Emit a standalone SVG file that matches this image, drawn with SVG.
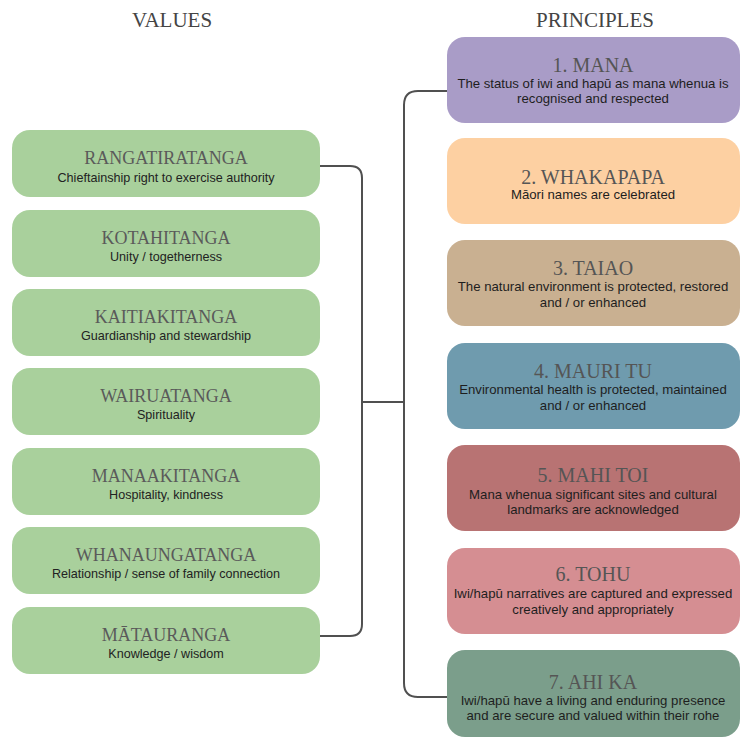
<svg xmlns="http://www.w3.org/2000/svg" width="742" height="744" viewBox="0 0 742 744">
<style>
.hdr{font-family:"Liberation Serif",serif;font-size:21px;fill:#444;text-anchor:middle}
.lt{font-family:"Liberation Serif",serif;font-size:18px;fill:#5a5a5a;text-anchor:middle}
.ls{font-family:"Liberation Sans",sans-serif;font-size:12.6px;fill:#222;text-anchor:middle}
.rt{font-family:"Liberation Serif",serif;font-size:20px;fill:#555;text-anchor:middle}
.rs{font-family:"Liberation Sans",sans-serif;font-size:13.2px;fill:#1e1e1e;text-anchor:middle}
.val{fill:#a9d09c}
.con{fill:none;stroke:#505050;stroke-width:2}
</style>
<rect width="742" height="744" fill="#ffffff"/>
<text class="hdr" x="172" y="27">VALUES</text>
<text class="hdr" x="595" y="27">PRINCIPLES</text>

<g id="connectors">
<path class="con" d="M320,166 H350 Q362,166 362,178 V624 Q362,636 350,636 H320"/>
<path class="con" d="M362,402 H404"/>
<path class="con" d="M447,91 H418 Q404,91 404,105 V683 Q404,697 418,697 H447"/>
</g>

<g id="v1"><rect class="val" x="12" y="130" width="308" height="67" rx="18"/>
<text class="lt" x="166" y="164">RANGATIRATANGA</text>
<text class="ls" x="166" y="182">Chieftainship right to exercise authority</text></g>
<g id="v2"><rect class="val" x="12" y="210" width="308" height="67" rx="18"/>
<text class="lt" x="166" y="244">KOTAHITANGA</text>
<text class="ls" x="166" y="261">Unity / togetherness</text></g>
<g id="v3"><rect class="val" x="12" y="289" width="308" height="67" rx="18"/>
<text class="lt" x="166" y="323">KAITIAKITANGA</text>
<text class="ls" x="166" y="340">Guardianship and stewardship</text></g>
<g id="v4"><rect class="val" x="12" y="368" width="308" height="67" rx="18"/>
<text class="lt" x="166" y="402">WAIRUATANGA</text>
<text class="ls" x="166" y="419">Spirituality</text></g>
<g id="v5"><rect class="val" x="12" y="448" width="308" height="67" rx="18"/>
<text class="lt" x="166" y="482">MANAAKITANGA</text>
<text class="ls" x="166" y="499">Hospitality, kindness</text></g>
<g id="v6"><rect class="val" x="12" y="527" width="308" height="67" rx="18"/>
<text class="lt" x="166" y="561">WHANAUNGATANGA</text>
<text class="ls" x="166" y="578">Relationship / sense of family connection</text></g>
<g id="v7"><rect class="val" x="12" y="607" width="308" height="67" rx="18"/>
<text class="lt" x="166" y="641">MĀTAURANGA</text>
<text class="ls" x="166" y="658">Knowledge / wisdom</text></g>

<g id="p1"><rect x="447" y="37" width="293" height="86" rx="18" fill="#a99cc7"/>
<text class="rt" x="593" y="72">1. MANA</text>
<text class="rs" x="593" y="88">The status of iwi and hapū as mana whenua is</text>
<text class="rs" x="593" y="103">recognised and respected</text></g>
<g id="p2"><rect x="447" y="138" width="293" height="86" rx="18" fill="#fdd0a2"/>
<text class="rt" x="593" y="184">2. WHAKAPAPA</text>
<text class="rs" x="593" y="199">Māori names are celebrated</text></g>
<g id="p3"><rect x="447" y="240" width="293" height="86" rx="18" fill="#c9b091"/>
<text class="rt" x="593" y="275">3. TAIAO</text>
<text class="rs" x="593" y="291">The natural environment is protected, restored</text>
<text class="rs" x="593" y="307">and / or enhanced</text></g>
<g id="p4"><rect x="447" y="343" width="293" height="86" rx="18" fill="#6f9bae"/>
<text class="rt" x="593" y="378">4. MAURI TU</text>
<text class="rs" x="593" y="394">Environmental health is protected, maintained</text>
<text class="rs" x="593" y="410">and / or enhanced</text></g>
<g id="p5"><rect x="447" y="445" width="293" height="86" rx="18" fill="#b87373"/>
<text class="rt" x="593" y="482">5. MAHI TOI</text>
<text class="rs" x="593" y="499">Mana whenua significant sites and cultural</text>
<text class="rs" x="593" y="514">landmarks are acknowledged</text></g>
<g id="p6"><rect x="447" y="548" width="293" height="86" rx="18" fill="#d58e92"/>
<text class="rt" x="593" y="581">6. TOHU</text>
<text class="rs" x="593" y="598">Iwi/hapū narratives are captured and expressed</text>
<text class="rs" x="593" y="614">creatively and appropriately</text></g>
<g id="p7"><rect x="447" y="650" width="293" height="87" rx="18" fill="#7b9e8b"/>
<text class="rt" x="593" y="689">7. AHI KA</text>
<text class="rs" x="593" y="705">Iwi/hapū have a living and enduring presence</text>
<text class="rs" x="593" y="720">and are secure and valued within their rohe</text></g>
</svg>
